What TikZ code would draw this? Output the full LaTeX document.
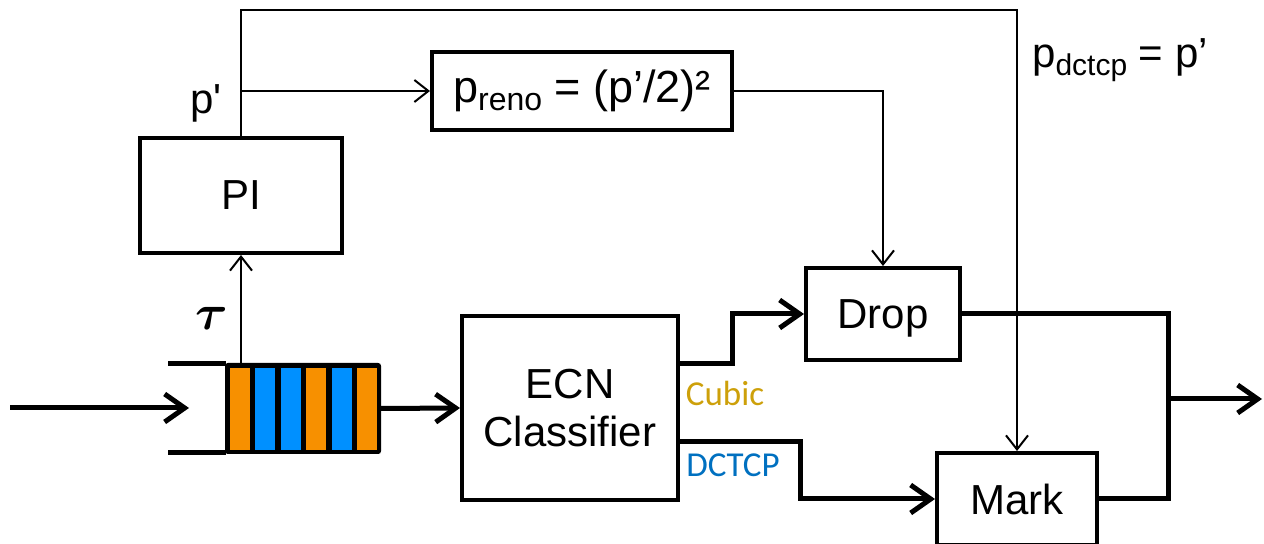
\documentclass[tikz,border=0pt]{standalone}
\usepackage{fontspec}
\usepackage{amsmath}
\setmainfont{Liberation Sans}
\newfontfamily\lblfont{Carlito}
\usetikzlibrary{arrows.meta,calc}
\definecolor{qorange}{RGB}{247,144,0}
\definecolor{qblue}{RGB}{0,144,255}
\definecolor{cubicc}{RGB}{205,160,10}
\definecolor{dctcpc}{RGB}{0,112,192}
\tikzset{
  blk/.style={draw, line width=2pt, inner sep=0pt, font=\fontsize{21}{24}\selectfont},
  thinline/.style={line width=1pt},
  thinarrow/.style={line width=1pt, -{Straight Barb[length=7pt,width=11pt]}},
  thickline/.style={line width=2.5pt},
  thickarrow/.style={line width=2.5pt, -{Straight Barb[length=10pt,width=14pt]}},
  lbl/.style={inner sep=0pt, font=\fontsize{21}{24}\selectfont},
  cell/.style={inner sep=0pt, minimum width=10pt, minimum height=41pt},
  cls/.style={inner sep=0pt, font=\lblfont\fontsize{17.5}{17.5}\selectfont},
}
\begin{document}
\begin{tikzpicture}[x=0.5pt,y=-0.5pt]
\useasboundingbox (0,0) rectangle (1264,544);

% boxes
\node[blk, minimum width=101pt, minimum height=57.5pt] (PI) at (241,195.5) {PI};
\node[blk, minimum width=150pt, minimum height=39pt, font=\fontsize{22.5}{24}\selectfont] (preno) at (582,91)
  {p\raisebox{-0.35ex}{\fontsize{16}{16}\selectfont reno} = (p’/2)²};
\node[blk, minimum width=77pt, minimum height=46pt, text depth=0pt] (drop) at (883,314) {Drop};
\node[blk, minimum width=108pt, minimum height=92pt, align=center] (ecn) at (570,408) {ECN\\[0pt]Classifier};
\node[blk, minimum width=80pt, minimum height=46pt] (mark) at (1017,499) {Mark};

% queue
\draw[thickline] (168,364) -- (226,364);
\draw[thickline] (168,453) -- (226,453);
\node[fill=black, draw=black, line width=1pt, rounded corners=1pt, inner sep=0pt, minimum width=77pt, minimum height=44.5pt] (q) at (303,408.5) {};
\node[cell, fill=qorange] (c1) at (239.5,409) {};
\node[cell, fill=qblue]   (c2) at (265,409) {};
\node[cell, fill=qblue]   (c3) at (290.5,409) {};
\node[cell, fill=qorange] (c4) at (316,409) {};
\node[cell, fill=qblue]   (c5) at (341.5,409) {};
\node[cell, fill=qorange] (c6) at (367,409) {};

% labels
\node[lbl] (pl) at (206,103) {p\textquotesingle};
\node[inner sep=0pt, font=\fontsize{25}{25}\selectfont] (tau) at (212,318) {$\boldsymbol{\tau}$};
\node[lbl] (pd) at (1120,60) {p\raisebox{-0.35ex}{\fontsize{15}{15}\selectfont dctcp} = p’};
\node[cls, text=cubicc] (cub) at (725,393) {Cubic};
\node[cls, text=dctcpc] (dct) at (733,465) {DCTCP};

% coordinates
\coordinate (inS) at (10,408);
\coordinate (inE) at (189,408);
\coordinate (jn) at (1168,399);
\coordinate (out) at (1262,399);

% thin connectors
\draw[thinarrow] (PI.south |- q.north) -- (PI.south);
\draw[thinarrow] (PI.north) -- (PI.north |- 0,10) -- (mark.north |- 0,10) -- (mark.north);
\draw[thinarrow] (PI.north |- preno.west) -- (preno.west);
\draw[thinarrow] (preno.east) -| (drop.north);

% thick connectors
\draw[thickarrow] (inS) -- (inE);
\draw[thickarrow] (q.east) -- (ecn.west);
\draw[thickarrow] ($(ecn.east)+(0,-44)$) -- ++(52,0) |- (drop.west);
\draw[thickarrow] ($(ecn.east)+(0,34)$) -- ++(120,0) |- (mark.west);
\draw[thickline] (drop.east) -| (jn);
\draw[thickline] (mark.east) -| (jn);
\draw[thickarrow] (jn) -- (out);
\end{tikzpicture}
\end{document}
